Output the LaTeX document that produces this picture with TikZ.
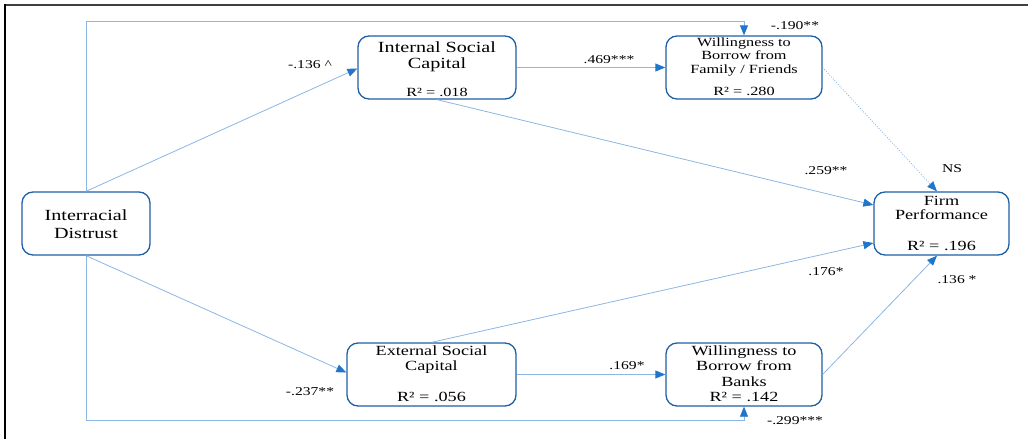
\documentclass[tikz,border=0pt]{standalone}
\usepackage{fontspec}
\setmainfont{Liberation Serif}[FakeStretch=1.3]
\usetikzlibrary{arrows.meta}
\definecolor{boxblue}{HTML}{1F5FA5}
\definecolor{lineblue}{HTML}{8CB6E4}
\definecolor{tipblue}{HTML}{2176CC}
\tikzset{
  box/.style={draw=boxblue, line width=1.3pt, rounded corners=11pt, minimum height=63pt, inner sep=0pt, fill=white},
  conn/.style={draw=lineblue, line width=0.8pt, -{Triangle[length=10pt,width=8pt,color=tipblue]}},
  dotconn/.style={conn, dash pattern=on 1pt off 1.5pt},
  lbl/.style={anchor=base, inner sep=0pt, font=\fontsize{12}{14}\selectfont},
  tx/.style={anchor=base, inner sep=0pt},
  big/.style={tx, font=\fontsize{15.5}{18}\selectfont},
  mid/.style={tx, font=\fontsize{14}{16}\selectfont},
  sml/.style={tx, font=\fontsize{12.5}{14}\selectfont},
}
\begin{document}
\begin{tikzpicture}[x=1pt,y=-1pt]
\useasboundingbox (0,0) rectangle (1028,439);
% frame
\draw[line width=2pt, color=black!75] (4,4.5) -- (1028,4.5);
\draw[line width=2pt, color=black] (4.5,4) -- (4.5,439);

% boxes
\node[box, minimum width=128pt] (id) at (86,223.5) {};
\node[box, minimum width=158pt] (isc) at (437,67.5) {};
\node[box, minimum width=156pt] (wf) at (744,67.5) {};
\node[box, minimum width=135pt] (fp) at (941.5,223.5) {};
\node[box, minimum width=169pt] (esc) at (431.5,374.5) {};
\node[box, minimum width=156pt] (wb) at (744,374.5) {};

\coordinate (top) at (0,21);
\coordinate (bot) at (0,420);

% connectors
\draw[conn] (id.north) -- (id.north |- top) -| (wf.north);
\draw[conn] (id.south) -- (id.south |- bot) -| (wb.south);
\draw[conn] (id.north) -- ([yshift=-1pt]isc.west);
\draw[conn] (id.south) -- ([yshift=2pt]esc.west);
\draw[conn] (isc.east) -- (wf.west);
\draw[conn] (esc.east) -- (wb.west);
\draw[conn] (isc.south) -- ([yshift=18.5pt]fp.west);
\draw[conn] (esc.north) -- ([yshift=-19.5pt]fp.west);
\draw[dotconn] (wf.east) -- ([xshift=-4.5pt]fp.north);
\draw[conn] (wb.east) -- ([xshift=-4.5pt]fp.south);

% box texts
\node[big] (id1) at (86,220) {Interracial};
\node[big] (id2) at (86,238.3) {Distrust};

\node[big] (isc1) at (437,52) {Internal Social};
\node[big] (isc2) at (437,68) {Capital};
\node[sml] (isc3) at (437,96.5) {R² = .018};

\node[sml] (wf1) at (744,46) {Willingness to};
\node[sml] (wf2) at (744,59.5) {Borrow from};
\node[sml] (wf3) at (744,73) {Family / Friends};
\node[sml] (wf4) at (744,95.5) {R² = .280};

\node[mid] (fp1) at (941.5,205) {Firm};
\node[mid] (fp2) at (941.5,219) {Performance};
\node[mid] (fp3) at (941.5,250.5) {R² = .196};

\node[mid] (esc1) at (431.5,355.7) {External Social};
\node[mid] (esc2) at (431.5,370.7) {Capital};
\node[mid] (esc3) at (431.5,401.7) {R² = .056};

\node[mid] (wb1) at (744,355.7) {Willingness to};
\node[mid] (wb2) at (744,370.7) {Borrow from};
\node[mid] (wb3) at (744,386) {Banks};
\node[mid] (wb4) at (744,401.7) {R² = .142};

% labels
\node[lbl] (l1) at (310,68) {-.136 \^{}};
\node[lbl] (l2) at (609,63) {.469***};
\node[lbl] (l3) at (795,29.5) {-.190**};
\node[lbl] (l4) at (826,174) {.259**};
\node[lbl] (l5) at (952,172.5) {NS};
\node[lbl] (l6) at (826,275) {.176*};
\node[lbl] (l7) at (957,283) {.136 *};
\node[lbl] (l8) at (310,395.7) {-.237**};
\node[lbl] (l9) at (627,369) {.169*};
\node[lbl] (l10) at (795,424) {-.299***};
\end{tikzpicture}
\end{document}
